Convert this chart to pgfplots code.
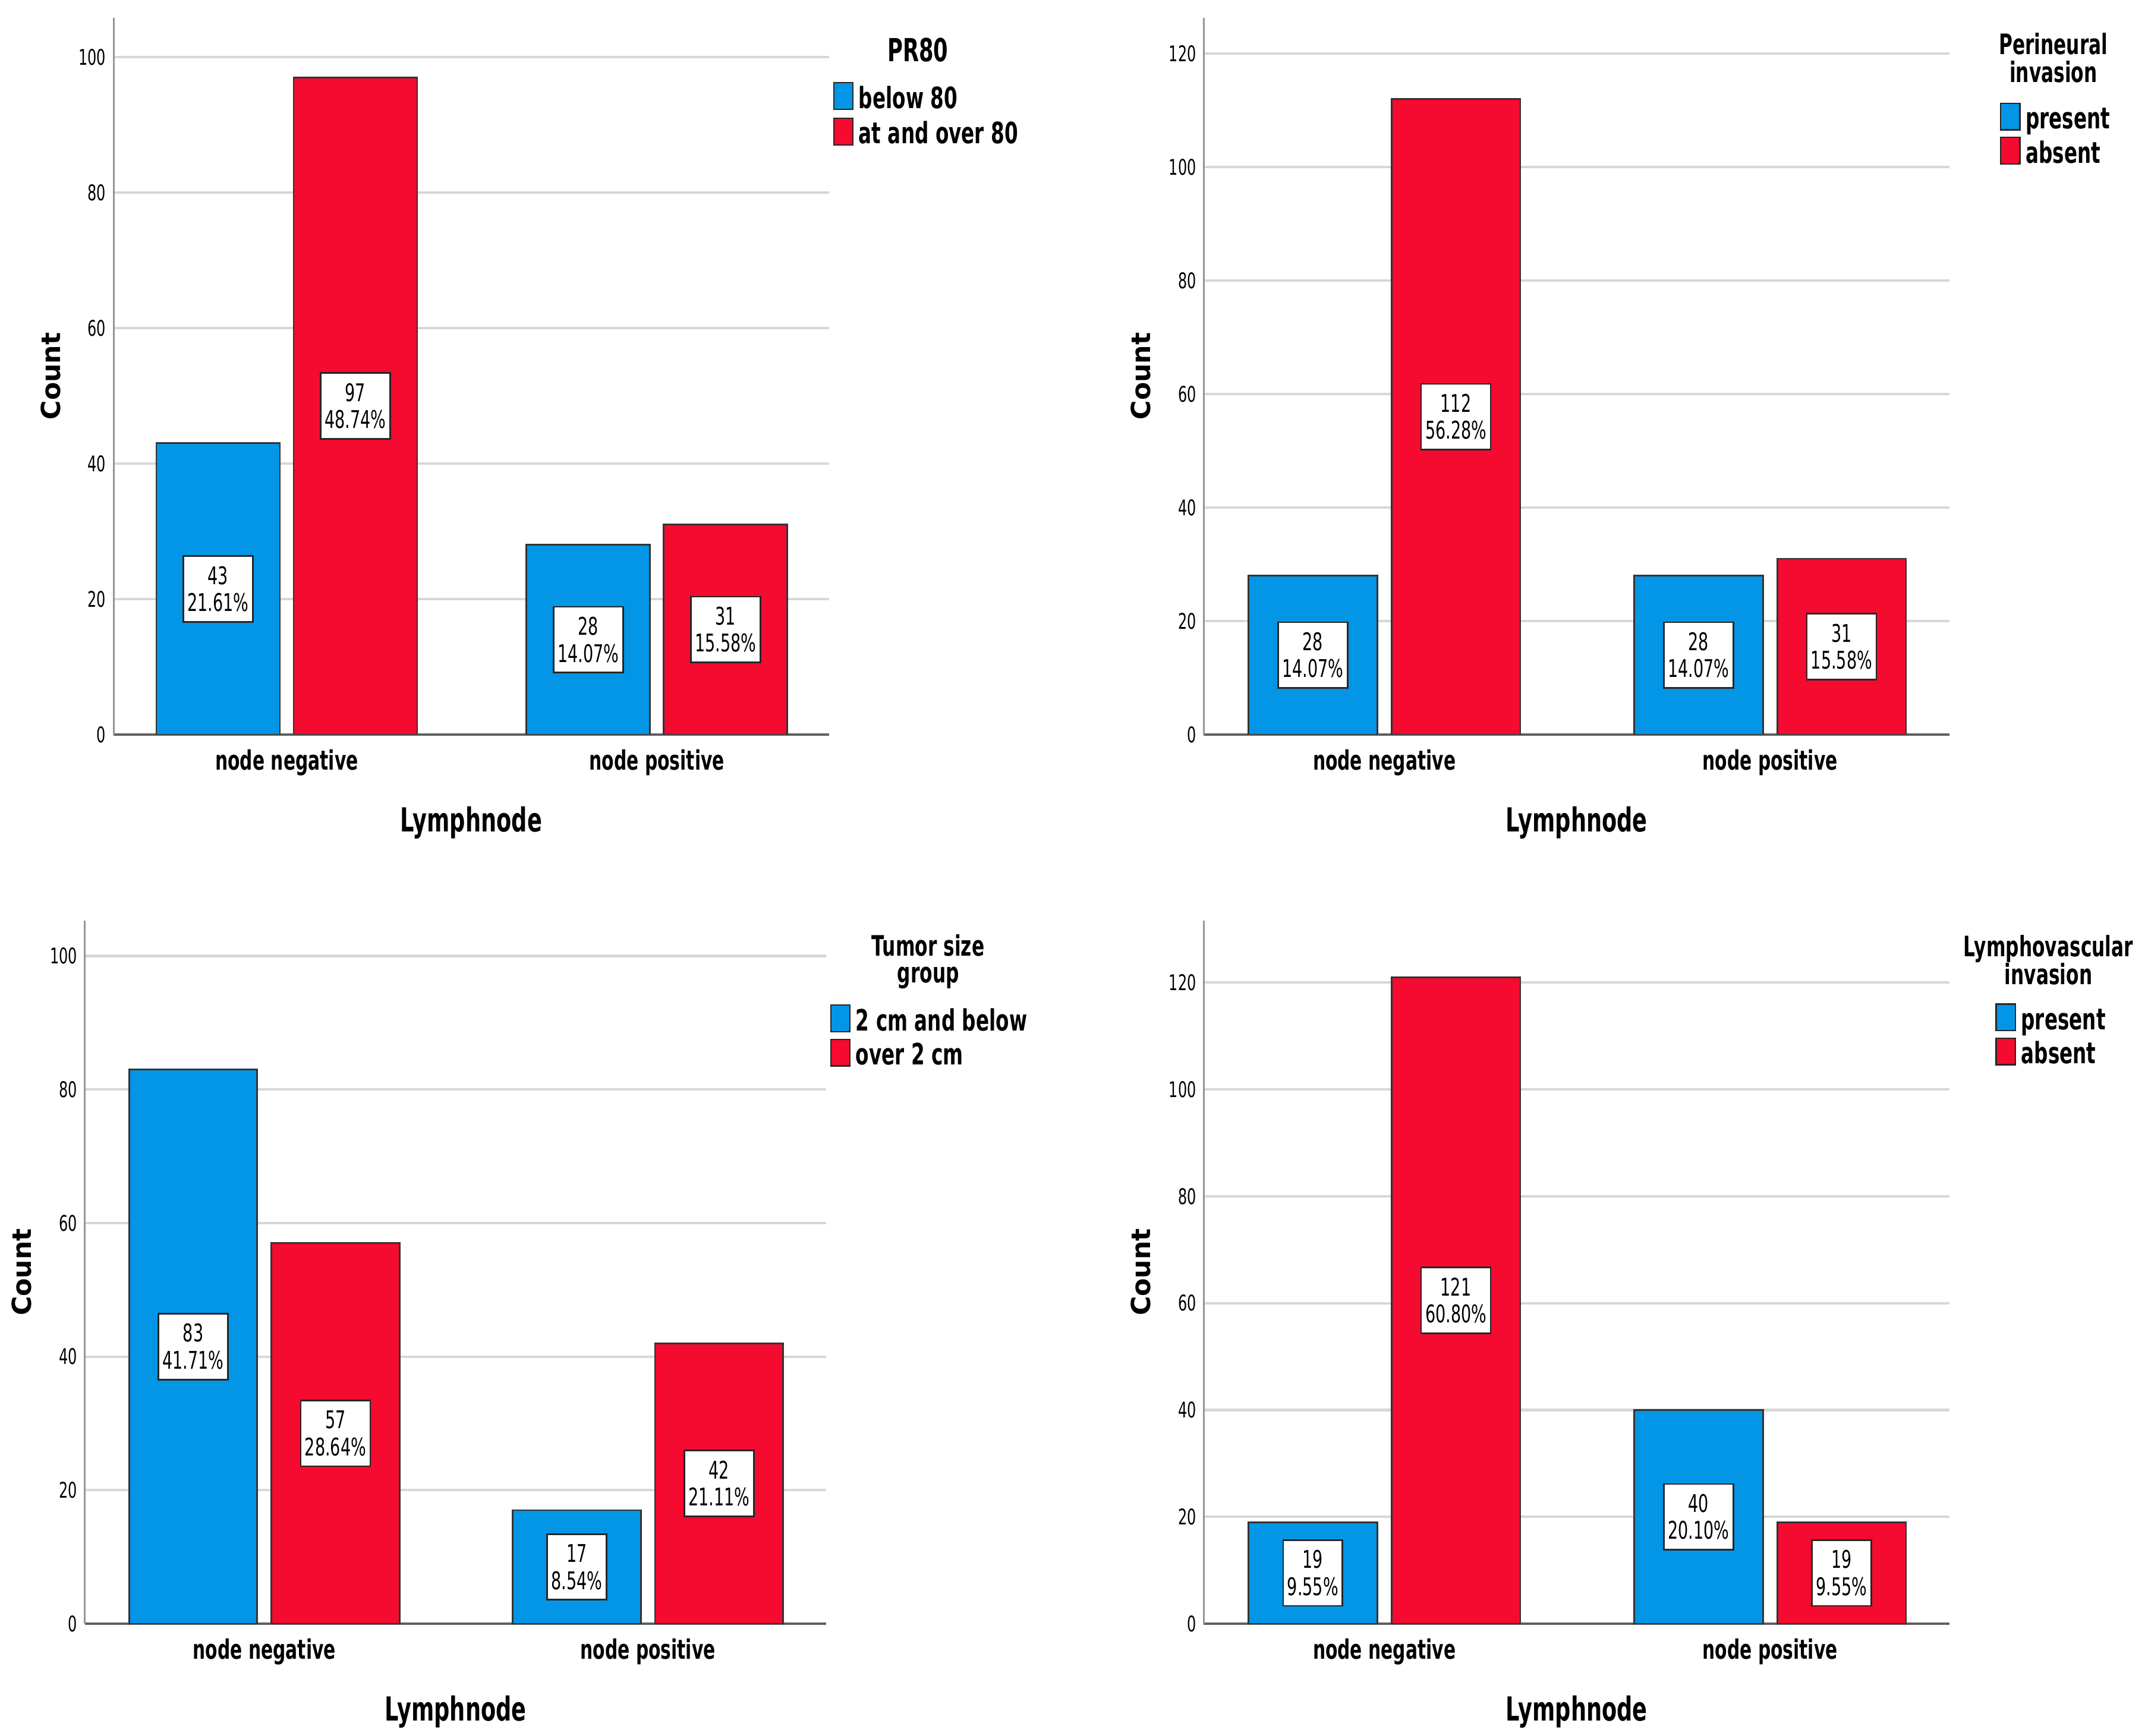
\documentclass[border=0pt]{standalone}
\usepackage{fontspec}
\setmainfont{DejaVu Sans}[FakeStretch=0.66]
\newfontfamily\countfont{DejaVu Sans}
\usepackage{pgfplots}
\pgfplotsset{compat=1.18}

\definecolor{cblue}{RGB}{3,150,230}
\definecolor{cred}{RGB}{245,10,48}
\definecolor{gridgray}{RGB}{215,215,215}
\definecolor{xaxgray}{RGB}{95,95,95}
\definecolor{yaxgray}{RGB}{150,150,150}

\pgfplotsset{
 spss/.style={
   scale only axis,
   anchor=south west,
   xmin=-0.468, xmax=1.465, ymin=0,
   axis x line=bottom, axis y line=left,
   axis line style={-},
   x axis line style={draw=xaxgray, line width=0.8bp},
   y axis line style={draw=yaxgray, line width=0.65bp},
   xtick={0,1}, xticklabels={node negative, node positive},
   major tick length=0pt,
   ymajorgrids, grid style={draw=gridgray, line width=0.9bp},
   /pgf/number format/assume math mode=true,
   yticklabel style={font=\fontsize{7.9bp}{8bp}\selectfont, anchor=east, inner sep=0pt, xshift=-2.6bp},
   xticklabel style={font=\bfseries\fontsize{9.8bp}{11bp}\selectfont, anchor=base, inner sep=0pt, yshift=-13bp},
   xlabel={Lymphnode}, ylabel={Count},
   every axis x label/.style={at={(axis description cs:0.5,0)}, anchor=base, yshift=-35.5bp, font=\bfseries\fontsize{12.1bp}{14bp}\selectfont},
   every axis y label/.style={at={(axis description cs:0,0.5)}, xshift=-23bp, rotate=90, anchor=center, font=\countfont\bfseries\fontsize{9.6bp}{11bp}\selectfont},
   legend cell align=left,
   legend style={draw=none, fill=none, inner sep=0pt, outer sep=0pt, anchor=north west, row sep=0.15bp, font=\bfseries\fontsize{10.75bp}{12bp}\selectfont, nodes={inner sep=0pt, text height=8.2bp, text depth=2.8bp}},
   legend image code/.code={\draw[#1, draw=black!85, line width=0.5bp] (0bp,-3.1bp) rectangle (7bp,6.6bp); \path (8.85bp,0bp);},
 },
 barB/.style={ybar, bar width=0.334, bar shift=0pt, fill=cblue, draw=black!80, line width=0.6bp},
 barR/.style={ybar, bar width=0.334, bar shift=0pt, fill=cred, draw=black!80, line width=0.6bp},
 lab/.style={forget plot, draw=none, mark=none, nodes near coords, point meta=explicit symbolic,
   nodes near coords align={center},
   every node near coord/.append style={anchor=center, fill=white, draw=black!85, line width=0.6bp, inner xsep=1.5bp, inner ysep=3.7bp, align=center, font=\fontsize{8.9bp}{9.9bp}\selectfont}},
}

\begin{document}
\begin{tikzpicture}
\path[use as bounding box] (0,0) rectangle (784bp,634.5bp);

% Panel 1: PR80
\begin{axis}[spss, at={(41.5bp,366bp)}, width=261.5bp, height=262bp, ymax=105.8, ytick={0,20,40,60,80,100},
  legend style={at={(axis description cs:1.0057,0.9103)}, row sep=0.65bp}]
\addplot[barB] table {
x y
-0.1855 43
0.8145 28
};
\addlegendentry{below 80}
\addplot[barR] table {
x y
0.1855 97
1.1855 31
};
\addlegendentry{at and over 80}
\addplot[lab] table[x=x, y expr=\thisrow{y}/2, meta=lab] {
x y lab
-0.1855 43 43\\21.61\%
0.8145 28 28\\14.07\%
0.1855 97 97\\48.74\%
1.1855 31 31\\15.58\%
};
\end{axis}

% Panel 2: Perineural invasion
\begin{axis}[spss, at={(440bp,366bp)}, width=272.5bp, height=262bp, ymax=126.3, ytick={0,20,40,60,80,100,120},
  legend style={at={(axis description cs:1.0679,0.8817)}}]
\addplot[barB] table {
x y
-0.1855 28
0.8145 28
};
\addlegendentry{present}
\addplot[barR] table {
x y
0.1855 112
1.1855 31
};
\addlegendentry{absent}
\addplot[lab] table[x=x, y expr=\thisrow{y}/2, meta=lab] {
x y lab
-0.1855 28 28\\14.07\%
0.8145 28 28\\14.07\%
0.1855 112 112\\56.28\%
1.1855 31 31\\15.58\%
};
\end{axis}

% Panel 3: Tumor size group
\begin{axis}[spss, at={(31bp,41bp)}, width=271bp, height=257bp, ymax=105.3, ytick={0,20,40,60,80,100},
  legend style={at={(axis description cs:1.0052,0.8807)}}]
\addplot[barB] table {
x y
-0.1855 83
0.8145 17
};
\addlegendentry{2 cm and below}
\addplot[barR] table {
x y
0.1855 57
1.1855 42
};
\addlegendentry{over 2 cm}
\addplot[lab] table[x=x, y expr=\thisrow{y}/2, meta=lab] {
x y lab
-0.1855 83 83\\41.71\%
0.8145 17 17\\8.54\%
0.1855 57 57\\28.64\%
1.1855 42 42\\21.11\%
};
\end{axis}

% Panel 4: Lymphovascular invasion
\begin{axis}[spss, at={(440bp,41bp)}, width=272.5bp, height=257bp, ymax=131.6, ytick={0,20,40,60,80,100,120},
  legend style={at={(axis description cs:1.0617,0.8823)}}]
\addplot[barB] table {
x y
-0.1855 19
0.8145 40
};
\addlegendentry{present}
\addplot[barR] table {
x y
0.1855 121
1.1855 19
};
\addlegendentry{absent}
\addplot[lab] table[x=x, y expr=\thisrow{y}/2, meta=lab] {
x y lab
-0.1855 19 19\\9.55\%
0.8145 40 40\\20.10\%
0.1855 121 121\\60.80\%
1.1855 19 19\\9.55\%
};
\end{axis}

% legend titles
\node[font=\bfseries\fontsize{11.6bp}{13bp}\selectfont, anchor=base, inner sep=0pt] at (335.5bp,611.9bp) {PR80};
\node[font=\bfseries\fontsize{10.3bp}{12bp}\selectfont, anchor=base, inner sep=0pt] at (750.5bp,614.6bp) {Perineural};
\node[font=\bfseries\fontsize{10.3bp}{12bp}\selectfont, anchor=base, inner sep=0pt] at (750.5bp,604.5bp) {invasion};
\node[font=\bfseries\fontsize{10.3bp}{12bp}\selectfont, anchor=base, inner sep=0pt] at (339.25bp,285.1bp) {Tumor size};
\node[font=\bfseries\fontsize{10.3bp}{12bp}\selectfont, anchor=base, inner sep=0pt] at (339.25bp,275.35bp) {group};
\node[font=\bfseries\fontsize{10.3bp}{12bp}\selectfont, anchor=base, inner sep=0pt] at (748.7bp,284.75bp) {Lymphovascular};
\node[font=\bfseries\fontsize{10.3bp}{12bp}\selectfont, anchor=base, inner sep=0pt] at (748.7bp,274.6bp) {invasion};
\end{tikzpicture}
\end{document}
